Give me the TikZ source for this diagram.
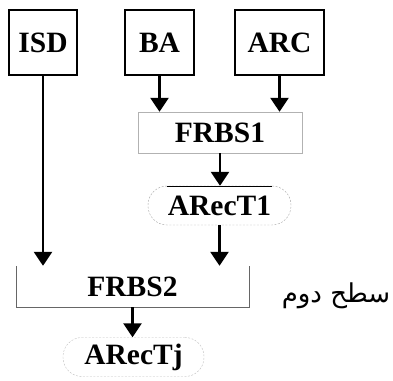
\documentclass[tikz,border=0pt]{standalone}
\usepackage{fontspec}
\setmainfont{Liberation Serif}
\newfontfamily\arabicfont[Script=Arabic]{DejaVu Sans}
\TeXXeTstate=1
\usepackage{tikz}
\usetikzlibrary{arrows.meta,shadows}
\tikzset{
	inbox/.style={draw,line width=2pt,minimum height=65pt,inner sep=0pt,fill=white,
		font=\fontsize{29.5}{32}\selectfont\bfseries,
		drop shadow={shadow xshift=1.2pt,shadow yshift=-1.2pt,fill=blue!15!gray!40,opacity=.6}},
	frbs/.style={minimum height=41pt,inner sep=0pt,font=\fontsize{29.5}{32}\selectfont\bfseries},
	arect/.style={draw=gray!70,dash pattern=on 2pt off 1.5pt,thin,rounded corners=19pt,
		minimum height=39pt,inner sep=0pt,font=\fontsize{29.5}{32}\selectfont\bfseries},
	arr/.style={line width=2.5pt,-{Triangle[length=14pt,width=18pt]}}
}
\begin{document}
\begin{tikzpicture}[x=1pt,y=-1pt]
	\useasboundingbox (0,0) rectangle (393,380);
	% inputs
	\node [inbox,minimum width=68pt] (ISD) at (43,42.5) {ISD};
	\node [inbox,minimum width=69pt] (BA) at (159.5,42.5) {BA};
	\node [inbox,minimum width=89pt] (ARC) at (279.5,42.5) {ARC};
	
	% first level
	\node [frbs,draw=gray!60,fill=white,minimum width=164pt,
		drop shadow={shadow xshift=1pt,shadow yshift=-1pt,fill=gray!60,opacity=.6}] (FRBS1) at (220,132.5) {FRBS1};
	\node [arect,minimum width=143pt] (ARecT1) at (219.5,205.5) {ARecT1};
	\draw ([xshift=19pt]ARecT1.north west) -- ([xshift=-19pt]ARecT1.north east);
	
	% second level
	\node [frbs,minimum width=233pt] (FRBS2) at (132.5,286.5) {FRBS2};
	\draw [gray!80!black,thin] (FRBS2.north west) -- (FRBS2.south west) -- (FRBS2.south east) -- (FRBS2.north east);
	\node [arect,draw=gray!50,minimum width=141pt] (ARecTj) at (133.5,357) {ARecTj};
	\node [font=\arabicfont\fontsize{26}{28}\selectfont,inner sep=0pt] (level) at (336,296) {\beginR سطح دوم\endR};
	
	\draw [arr] (BA.south) -- (BA.south |- FRBS1.north);
	\draw [arr] (ARC.south) -- (ARC.south |- FRBS1.north);
	\draw [arr] (FRBS1.south) -- (FRBS1.south |- ARecT1.north);
	\draw [arr] (ARecT1.south) -- (ARecT1.south |- FRBS2.north);
	\draw [arr] (ISD.south) -- (ISD.south |- FRBS2.north);
	\draw [arr] (FRBS2.south) -- (FRBS2.south |- ARecTj.north);
\end{tikzpicture}
\end{document}
